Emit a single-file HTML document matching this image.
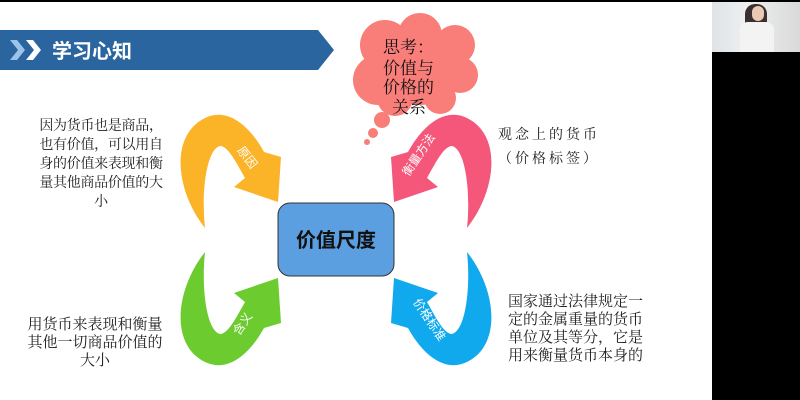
<!DOCTYPE html>
<html><head><meta charset="utf-8"><style>
html,body{margin:0;padding:0;width:800px;height:400px;overflow:hidden;background:#fff;}
body{position:relative;font-family:"Liberation Serif","Noto Serif CJK SC",serif;}
.t{position:absolute;color:#222;text-align:center;line-height:19px;}
</style></head><body>
<div style="position:absolute;left:0;top:0;width:800px;height:2px;background:#000"></div>
<div style="position:absolute;left:712px;top:0;width:88px;height:400px;background:#000"></div>
<div style="position:absolute;left:712px;top:2px;width:88px;height:50px;background:linear-gradient(90deg,#dfe3e6,#eef0f1 40%,#d9d9d9)"></div>
<div style="position:absolute;left:745px;top:4px;width:22px;height:46px;background:#3a3030;border-radius:10px 10px 2px 2px"></div>
<div style="position:absolute;left:740px;top:22px;width:34px;height:30px;background:#f3f3f3;border-radius:8px 8px 0 0"></div>
<div style="position:absolute;left:752px;top:6px;width:12px;height:15px;background:#e9c9b4;border-radius:6px"></div>

<svg width="712" height="400" style="position:absolute;left:0;top:0">
<polygon points="0,30 318,30 334,50 318,70 0,70" fill="#2a65a0"/>
<polygon points="10,40 17,40 25,50 17,60 10,60 18,50" fill="#9cc3ea"/>
<polygon points="26,40 33,40 41,50 33,60 26,60 34,50" fill="#fff"/>
<text x="52" y="58" fill="#fff" font-size="20" font-weight="bold" font-family="Liberation Sans,Noto Sans CJK SC,sans-serif">学习心知</text>

<g fill="#f97d78">
<circle cx="385" cy="45" r="25"/><circle cx="420" cy="35" r="22"/><circle cx="455" cy="45" r="20"/>
<circle cx="378" cy="80" r="25"/><circle cx="460" cy="75" r="18"/><circle cx="420" cy="70" r="35"/>
<circle cx="395" cy="98" r="18"/><circle cx="440" cy="98" r="16"/>
<circle cx="382" cy="120" r="8"/><circle cx="373" cy="133" r="5"/><circle cx="367" cy="142" r="3"/>
</g>
<g font-size="17" fill="#111">
<text x="383" y="53">思考：</text><text x="383" y="74">价值与</text><text x="383" y="93">价格的</text><text x="392" y="113">关系</text>
</g>

<defs><path id="arr" d="M205,228 C175,190 170,135 205,118 C230,106 252,130 264,152 L281,157 L278,202 L234,187 L245,178 C236,162 228,146 220,146 C207,149 201,190 205,228 Z"/></defs>
<use href="#arr" fill="#fbb327"/>
<use href="#arr" fill="#f4577a" transform="translate(672,0) scale(-1,1)"/>
<use href="#arr" fill="#6ccb2e" transform="translate(0,480) scale(1,-1)"/>
<use href="#arr" fill="#10a9ee" transform="translate(672,480) scale(-1,-1)"/>
<g fill="#fff" font-size="12" font-family="Liberation Sans,Noto Sans CJK SC,sans-serif">
<text transform="translate(244,160) rotate(52)" text-anchor="middle">原因</text>
<text transform="translate(422,157) rotate(-56)" text-anchor="middle">衡量方法</text>
<text transform="translate(246,326) rotate(-56)" text-anchor="middle">含义</text>
<text transform="translate(426,322) rotate(56)" text-anchor="middle">价格标准</text>
</g>

<rect x="278" y="203" width="116" height="73" rx="12" fill="#5b9fe0" stroke="#333" stroke-width="1"/>
<text x="336" y="247" text-anchor="middle" font-size="20" font-weight="bold" fill="#111" font-family="Liberation Sans,Noto Sans CJK SC,sans-serif">价值尺度</text>
</svg>

<div class="t" style="left:30px;top:117px;width:142px;font-size:14px;line-height:19px;letter-spacing:-0.3px">因为货币也是商品，<br>也有价值，可以用自<br>身的价值来表现和衡<br>量其他商品价值的大<br>小</div>
<div class="t" style="left:498px;top:124px;width:130px;font-size:14px;text-align:left;letter-spacing:3px;line-height:24px">观念上的货币<br>（价格标签）</div>
<div class="t" style="left:24px;top:316px;width:142px;font-size:15px;line-height:18px">用货币来表现和衡量<br>其他一切商品价值的<br>大小</div>
<div class="t" style="left:508px;top:293px;width:140px;font-size:15px;text-align:left;line-height:18px">国家通过法律规定一<br>定的金属重量的货币<br>单位及其等分，它是<br>用来衡量货币本身的</div>
</body></html>
